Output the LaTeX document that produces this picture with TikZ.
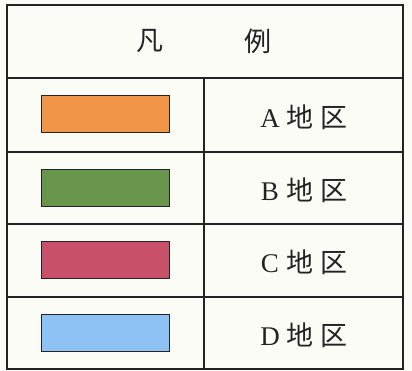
\documentclass[tikz,border=0pt]{standalone}
\usepackage{fontspec}
\setmainfont{Liberation Serif}
\newfontfamily\cjk{Noto Sans CJK JP}
\definecolor{paper}{RGB}{252,252,247}
\definecolor{ink}{RGB}{35,35,35}
\definecolor{colA}{RGB}{241,150,72}
\definecolor{colB}{RGB}{104,150,76}
\definecolor{colC}{RGB}{200,80,104}
\definecolor{colD}{RGB}{142,194,244}
\tikzset{
  outer/.style={draw=ink, line width=2.8pt},
  inner/.style={draw=ink, line width=1.8pt},
  swatch/.style={draw=ink, line width=1.4pt, minimum width=128pt, minimum height=37pt, inner sep=0pt},
  label/.style={font=\fontsize{27}{27}\selectfont, inner sep=0pt, text=ink},
}
\begin{document}
\begin{tikzpicture}[x=1pt,y=-1pt]
\useasboundingbox (0,0) rectangle (412,371);
\fill[paper] (0,0) rectangle (412,371);
% table lines
\coordinate (tl) at (7,5);
\coordinate (br) at (403,369);
\draw[inner] (7,78) -- (403,78);
\draw[inner] (7,152) -- (403,152);
\draw[inner] (7,224) -- (403,224);
\draw[inner] (7,297) -- (403,297);
\draw[inner] (204,78) -- (204,369);
\draw[outer] (tl) rectangle (br);
% header
\node[label] (h1) at (150,41) {\cjk 凡};
\node[label] (h2) at (258,41) {\cjk 例};
% swatches
\node[swatch, fill=colA] (sA) at (105.5,114) {};
\node[swatch, fill=colB] (sB) at (105.5,188) {};
\node[swatch, fill=colC] (sC) at (105.5,260) {};
\node[swatch, fill=colD] (sD) at (105.5,333) {};
% labels
\node[label] (lA) at (304,117) {A\hspace{7pt}{\cjk 地}\hspace{7pt}{\cjk 区}};
\node[label] (lB) at (304,190) {B\hspace{7pt}{\cjk 地}\hspace{7pt}{\cjk 区}};
\node[label] (lC) at (304,262) {C\hspace{7pt}{\cjk 地}\hspace{7pt}{\cjk 区}};
\node[label] (lD) at (304,335) {D\hspace{7pt}{\cjk 地}\hspace{7pt}{\cjk 区}};
\end{tikzpicture}
\end{document}
